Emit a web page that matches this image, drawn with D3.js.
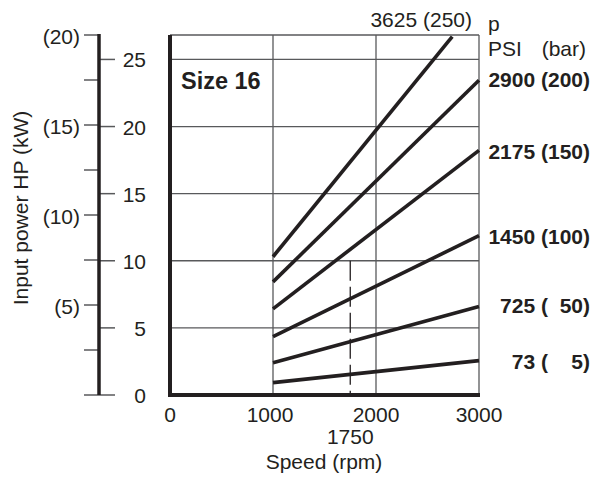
<!DOCTYPE html>
<html>
<head>
<meta charset="utf-8">
<script src="https://cdn.jsdelivr.net/npm/d3@7"></script>
<style>
  body { margin: 0; background: #fff; }
  svg { font-family: "Liberation Sans", Arial, sans-serif; }
  text { fill: #231f20; white-space: pre; }
</style>
</head>
<body>
<svg id="chart" width="600" height="478"></svg>
<script>
// speed range (rpm) and power ticks
const speedTicks = [0, 1000, 2000, 3000];
const hpTicks = [0, 5, 10, 15, 20, 25];
const kwTicks = [0, 2.5, 5, 7.5, 10, 12.5, 15, 17.5, 20];
const kwLabels = [5, 10, 15, 20];
const HP_PER_KW = 1.341;

// pressure curves: [rpm, HP] at start and end
const pressureBar = [250, 200, 150, 100, 50, 5];
const pressureLabels = ['3625 (250)', '2900 (200)', '2175 (150)', '1450 (100)', '725 (  50)', '73 (    5)'];
const curveStart = [[1000, 10.3], [1000, 8.43], [1000, 6.42], [1000, 4.35], [1000, 2.41], [1000, 0.92]];
const curveEnd = [[2740, 26.7], [3000, 23.45], [3000, 18.23], [3000, 11.87], [3000, 6.59], [3000, 2.56]];
const labelBaseline = [27, 87, 159, 244, 313, 369];

const svg = d3.select('#chart');
const dark = '#231f20';
const grey = '#58595b';
const fs = '21px';

const x = d3.scaleLinear().domain([0, 3000]).range([170, 479]);
const y = d3.scaleLinear().domain([0, 20 * HP_PER_KW]).range([395, 35]);
const yKw = d3.scaleLinear().domain([0, 20]).range([395, 35]);

// grid
const grid = svg.append('g');
grid.selectAll('.hgrid')
  .data(hpTicks.filter(d => d > 0))
  .join('line')
  .attr('x1', x(0)).attr('x2', x(3000))
  .attr('y1', d => y(d)).attr('y2', d => y(d))
  .attr('stroke', grey).attr('stroke-width', 1.3);
grid.selectAll('.vgrid')
  .data([1000, 2000])
  .join('line')
  .attr('x1', d => x(d)).attr('x2', d => x(d))
  .attr('y1', y.range()[1]).attr('y2', y(0))
  .attr('stroke', grey).attr('stroke-width', 1.3);
// top and right frame
grid.append('line')
  .attr('x1', x(0)).attr('x2', x(3000))
  .attr('y1', y.range()[1]).attr('y2', y.range()[1])
  .attr('stroke', grey).attr('stroke-width', 1.3);
grid.append('line')
  .attr('x1', x(3000)).attr('x2', x(3000))
  .attr('y1', y.range()[1]).attr('y2', y(0))
  .attr('stroke', grey).attr('stroke-width', 1.3);

// 1750 rpm marker
grid.append('line')
  .attr('x1', x(1750)).attr('x2', x(1750))
  .attr('y1', y(10)).attr('y2', y(0))
  .attr('stroke', dark).attr('stroke-width', 1.3)
  .attr('stroke-dasharray', '20,6');

// curves
svg.append('g').selectAll('line')
  .data(pressureBar.map((p, i) => ({ p, s: curveStart[i], e: curveEnd[i] })))
  .join('line')
  .attr('x1', d => x(d.s[0])).attr('y1', d => y(d.s[1]))
  .attr('x2', d => x(d.e[0])).attr('y2', d => y(d.e[1]))
  .attr('stroke', dark).attr('stroke-width', 3.6);

// thick left / bottom frame
svg.append('line')
  .attr('x1', x(0)).attr('x2', x(0))
  .attr('y1', y.range()[1]).attr('y2', y(0) + 2)
  .attr('stroke', dark).attr('stroke-width', 4);
svg.append('line')
  .attr('x1', x(0) - 2).attr('x2', x(3000) + 1)
  .attr('y1', y(0)).attr('y2', y(0))
  .attr('stroke', dark).attr('stroke-width', 4);

// x labels
svg.append('g').selectAll('text')
  .data(speedTicks)
  .join('text')
  .attr('x', d => x(d) - (d === 1000 ? 3 : 0))
  .attr('y', 422)
  .attr('text-anchor', 'middle')
  .style('font-size', fs)
  .text(d => d);
svg.append('text')
  .attr('x', x(1750)).attr('y', 444)
  .attr('text-anchor', 'middle').style('font-size', fs)
  .text('1750');
svg.append('text')
  .attr('x', 324).attr('y', 469)
  .attr('text-anchor', 'middle').style('font-size', fs)
  .text('Speed (rpm)');

// left double axis (HP right side, kW left side)
const axisX = 99;
const left = svg.append('g');
left.selectAll('.hp')
  .data(hpTicks)
  .join('line')
  .attr('x1', axisX).attr('x2', axisX + 16)
  .attr('y1', d => y(d)).attr('y2', d => y(d))
  .attr('stroke', grey).attr('stroke-width', 1.5);
left.selectAll('.kw')
  .data(kwTicks)
  .join('line')
  .attr('x1', axisX - 15).attr('x2', axisX)
  .attr('y1', d => yKw(d)).attr('y2', d => yKw(d))
  .attr('stroke', grey).attr('stroke-width', 1.5);
left.append('line')
  .attr('x1', axisX).attr('x2', axisX)
  .attr('y1', yKw(20) - 1).attr('y2', y(0))
  .attr('stroke', dark).attr('stroke-width', 3.5);
left.selectAll('.hpl')
  .data(hpTicks)
  .join('text')
  .attr('x', 146).attr('y', d => y(d) + 8)
  .attr('text-anchor', 'end').style('font-size', fs)
  .text(d => d);
left.selectAll('.kwl')
  .data(kwLabels)
  .join('text')
  .attr('x', 80).attr('y', d => yKw(d) + 9)
  .attr('text-anchor', 'end').style('font-size', fs)
  .text(d => `(${d})`);
svg.append('text')
  .attr('transform', 'translate(28,208) rotate(-90)')
  .attr('text-anchor', 'middle').style('font-size', fs)
  .text('Input power HP (kW)');

svg.append('text')
  .attr('x', 181).attr('y', 89)
  .style('font-size', '23.5px').style('font-weight', 'bold')
  .text('Size 16');

// pressure legend on the right
svg.append('text')
  .attr('x', 488).attr('y', 31).style('font-size', fs).text('p');
svg.append('text')
  .attr('x', 488).attr('y', 56).style('font-size', fs).text('PSI');
svg.append('text')
  .attr('x', 586).attr('y', 56).attr('text-anchor', 'end').style('font-size', fs).text('(bar)');
svg.append('g').selectAll('text')
  .data(pressureLabels)
  .join('text')
  .attr('x', (d, i) => i === 0 ? 472 : 590)
  .attr('y', (d, i) => labelBaseline[i])
  .attr('text-anchor', 'end')
  .style('font-size', fs)
  .style('font-weight', (d, i) => i === 0 ? 'normal' : 'bold')
  .text(d => d);
</script>
</body>
</html>
